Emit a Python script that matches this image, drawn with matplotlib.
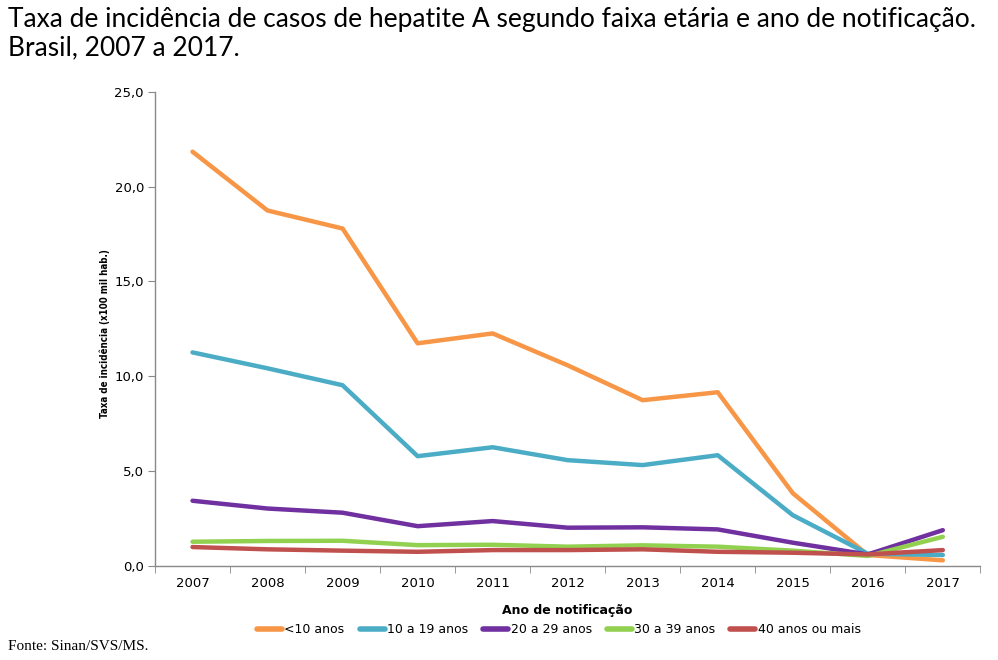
import matplotlib
matplotlib.use("Agg")
import matplotlib.pyplot as plt
from matplotlib.ticker import FuncFormatter, MultipleLocator
from matplotlib.lines import Line2D

anos = [2007, 2008, 2009, 2010, 2011, 2012, 2013, 2014, 2015, 2016, 2017]
menos_10 = [21.84, 18.74, 17.79, 11.74, 12.26, 10.58, 8.74, 9.16, 3.84, 0.58, 0.30]
de_10_a_19 = [11.26, 10.42, 9.53, 5.79, 6.26, 5.58, 5.32, 5.84, 2.68, 0.65, 0.58]
de_20_a_29 = [3.44, 3.03, 2.81, 2.10, 2.37, 2.02, 2.04, 1.93, 1.23, 0.61, 1.89]
de_30_a_39 = [1.28, 1.32, 1.33, 1.10, 1.12, 1.02, 1.09, 1.02, 0.81, 0.53, 1.54]
mais_40 = [1.00, 0.88, 0.81, 0.75, 0.84, 0.84, 0.88, 0.75, 0.70, 0.61, 0.84]

series = [
    ("<10 anos", menos_10, "#F79646"),
    ("10 a 19 anos", de_10_a_19, "#4BACC6"),
    ("20 a 29 anos", de_20_a_29, "#7030A0"),
    ("30 a 39 anos", de_30_a_39, "#92D050"),
    ("40 anos ou mais", mais_40, "#C0504D"),
]

fig = plt.figure(figsize=(9.98, 6.6), dpi=100)
ax = fig.add_axes([0.1553, 0.1424, 0.827, 0.7186])

for nome, valores, cor in series:
    ax.plot(anos, valores, color=cor, linewidth=3.2, solid_capstyle="round", label=nome)

ax.set_xlim(2006.5, 2017.5)
ax.set_ylim(0, 25)
ax.yaxis.set_major_locator(MultipleLocator(5))
ax.yaxis.set_major_formatter(FuncFormatter(lambda v, p: f"{v:.1f}".replace(".", ",")))
ax.set_xticks(anos)
ax.set_xticklabels([str(a) for a in anos])
ax.set_xticks([a + 0.5 for a in [2006] + anos], minor=True)
ax.tick_params(axis="x", which="major", length=0, pad=8, labelsize=9.5)
ax.tick_params(axis="x", which="minor", length=5, color="#898989", direction="out")
ax.tick_params(axis="y", length=5, color="#898989", labelsize=9.5, pad=3)

for lado in ["top", "right"]:
    ax.spines[lado].set_visible(False)
for lado in ["left", "bottom"]:
    ax.spines[lado].set_color("#898989")
    ax.spines[lado].set_linewidth(1.0)

ax.set_ylabel("Taxa de incidência (x100 mil hab.)", fontsize=7, fontweight="bold",
              fontstretch="condensed")
ax.yaxis.set_label_coords(-0.054, 0.49)
ax.set_xlabel("Ano de notificação", fontsize=9, fontweight="bold", labelpad=10)

handles = [Line2D([0], [0], color=c, linewidth=4, solid_capstyle="round") for _, _, c in series]
fig.legend(handles, [n for n, _, _ in series], loc="center", bbox_to_anchor=(0.56, 0.046),
           ncol=5, frameon=False, fontsize=9, handlelength=2.0, handletextpad=0.2,
           columnspacing=1.2)

fig.text(0.008, 0.99, "Taxa de incidência de casos de hepatite A segundo faixa etária e ano de notificação.\nBrasil, 2007 a 2017.",
         ha="left", va="top", fontsize=19, family="Lato", linespacing=1.2)
fig.text(0.008, 0.01, "Fonte: Sinan/SVS/MS.", ha="left", va="bottom", fontsize=11,
         family="Liberation Serif")

fig.savefig("out.png", dpi=100)
